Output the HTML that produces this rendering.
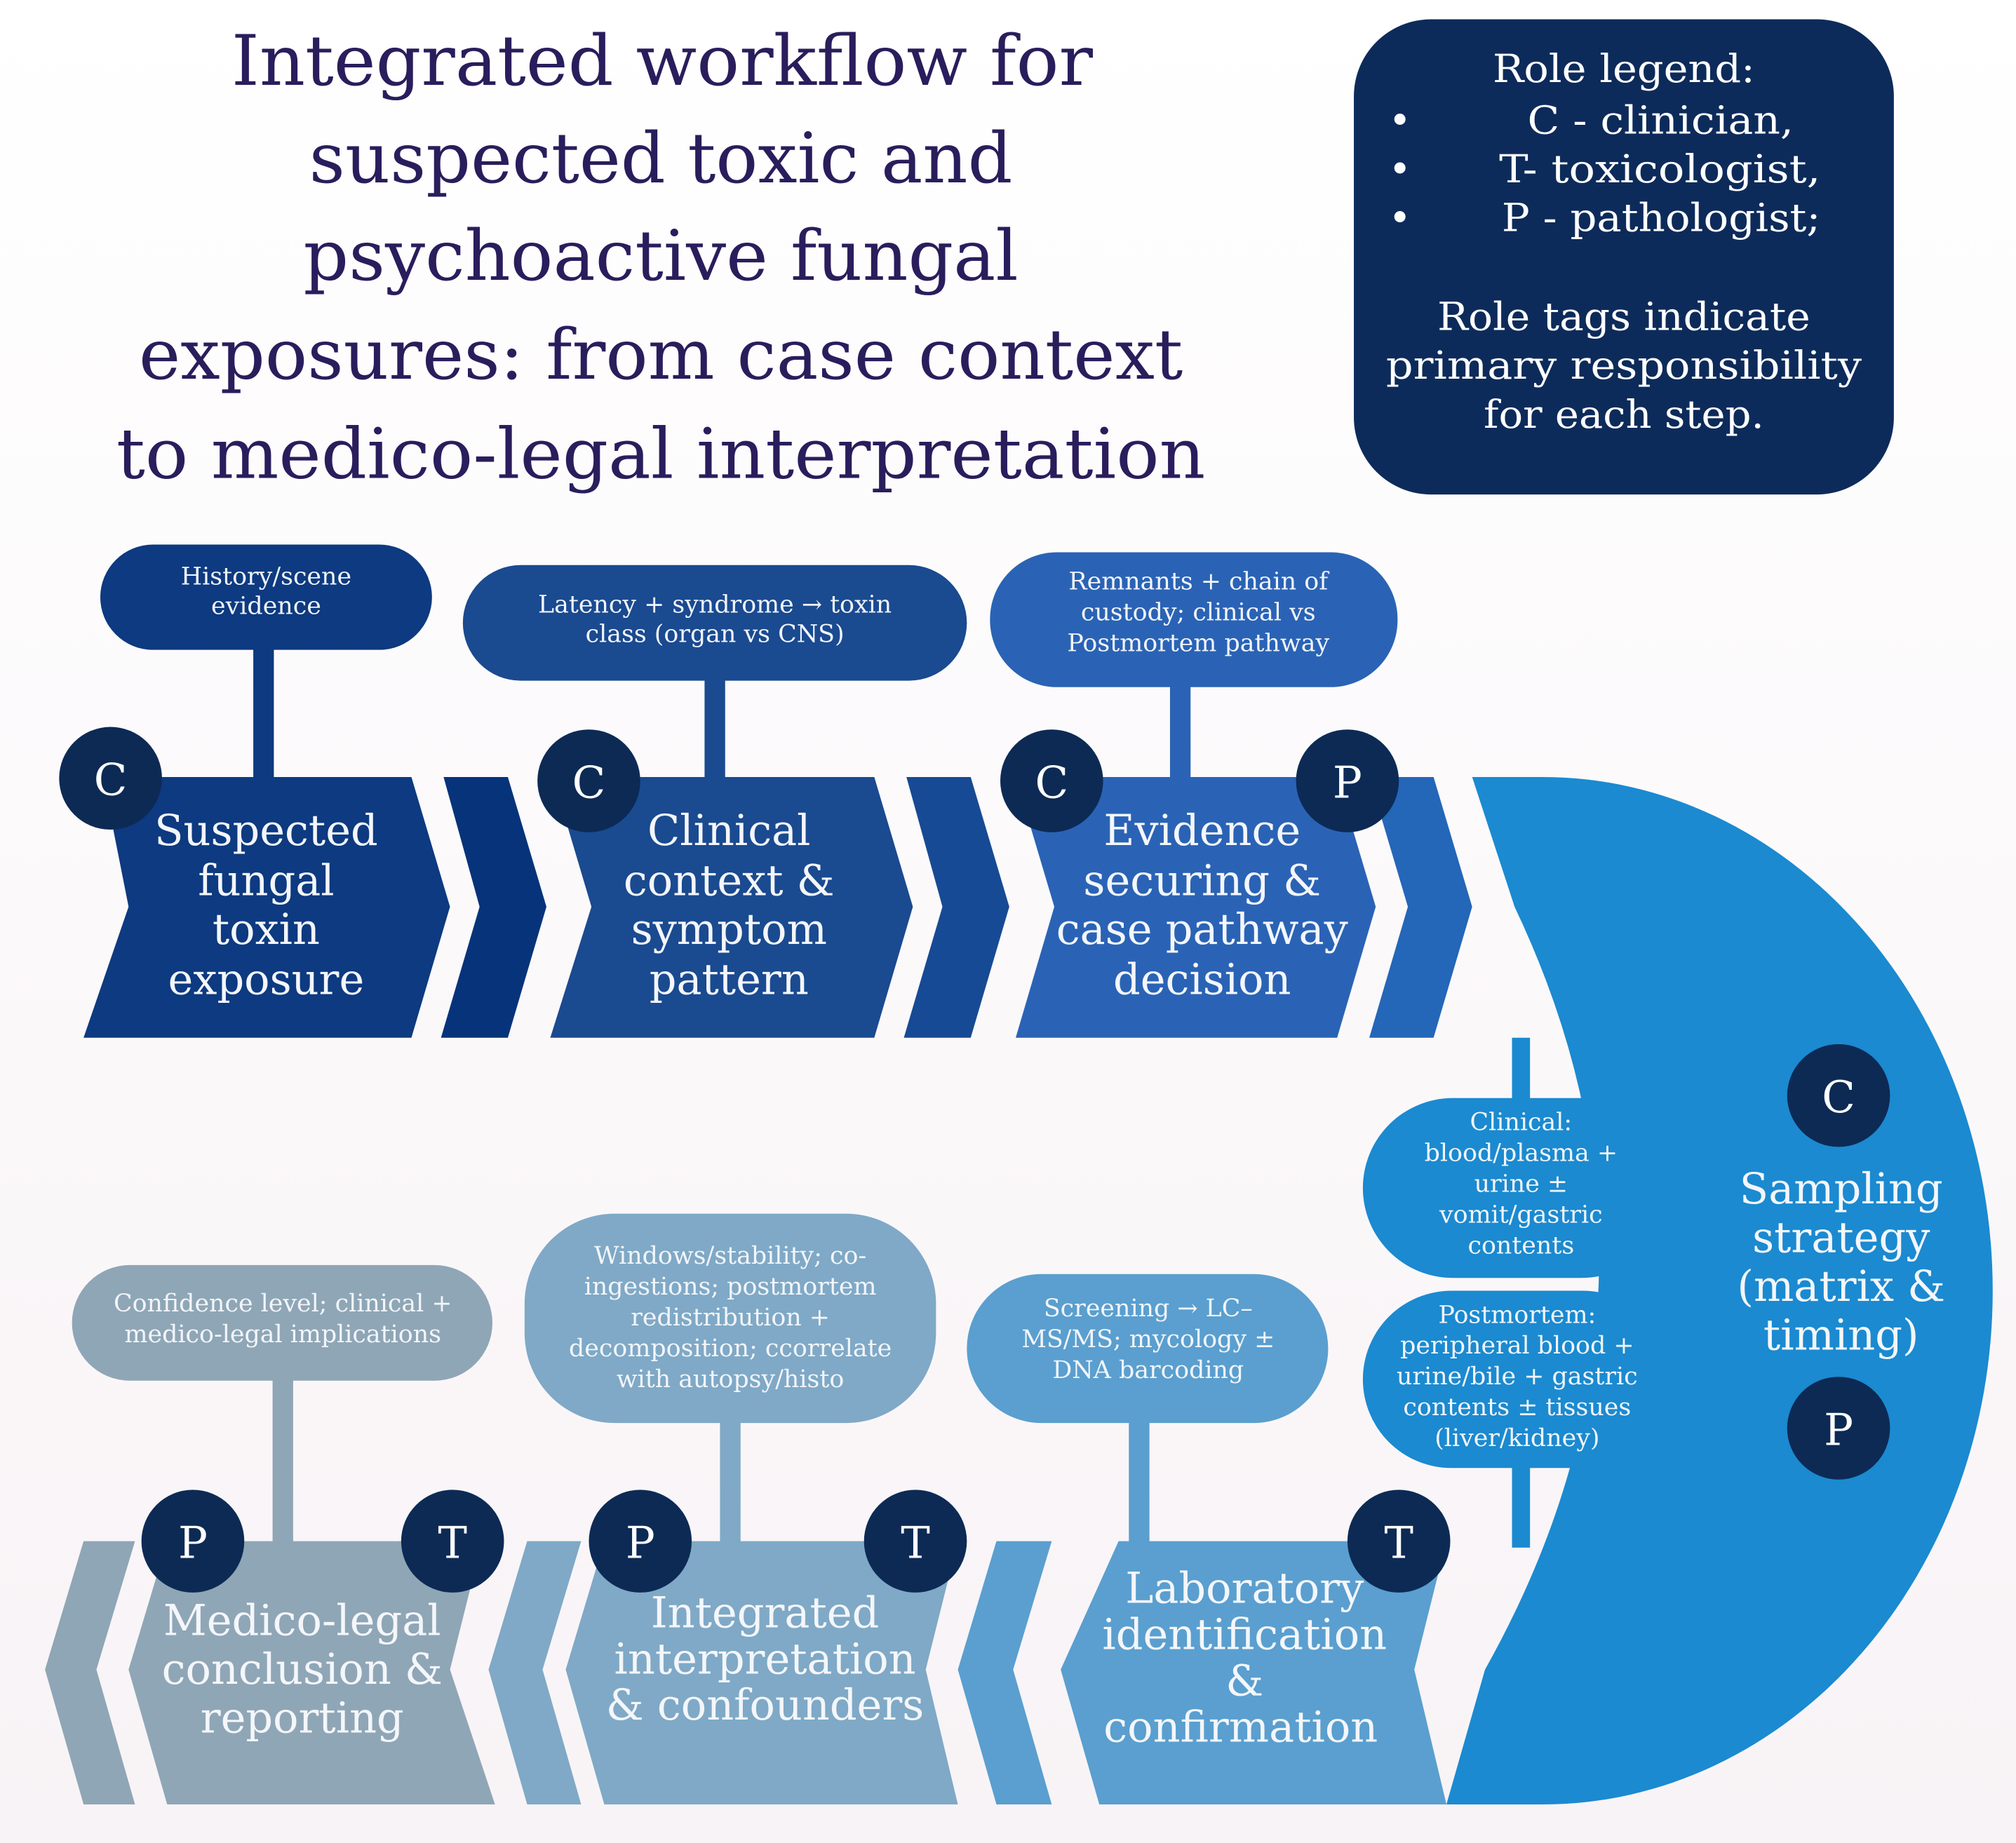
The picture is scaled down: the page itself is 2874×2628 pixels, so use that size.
<!DOCTYPE html>
<html><head><meta charset="utf-8"><style>
html,body{margin:0;padding:0;}
body{width:2874px;height:2628px;overflow:hidden;background:#fdfcfd;}
svg{display:block}
text{font-family:"DejaVu Serif","Liberation Serif",serif;}
</style></head><body>
<svg width="2874" height="2628" viewBox="0 0 1568 1435" preserveAspectRatio="none" xmlns="http://www.w3.org/2000/svg">
<defs><linearGradient id="bg" x1="0" y1="0" x2="0" y2="1"><stop offset="0" stop-color="#ffffff"/><stop offset="1" stop-color="#f8f3f6"/></linearGradient></defs>
<rect width="1568" height="1435" fill="url(#bg)"/>
<g fill="#2a1d5c" font-size="54" text-anchor="middle">
<text x="515" y="66" textLength="670" lengthAdjust="spacingAndGlyphs">Integrated workflow for</text>
<text x="514" y="142" textLength="547" lengthAdjust="spacingAndGlyphs">suspected toxic and</text>
<text x="514" y="218" textLength="556" lengthAdjust="spacingAndGlyphs">psychoactive fungal</text>
<text x="514" y="295" textLength="812" lengthAdjust="spacingAndGlyphs">exposures: from case context</text>
<text x="514" y="372" textLength="847" lengthAdjust="spacingAndGlyphs">to medico-legal interpretation</text>
</g>
<rect x="1053" y="15" width="420" height="370" rx="60" fill="#0d2b5a"/>
<g fill="#fff" font-size="30">
<text x="1263" y="64" text-anchor="middle" textLength="204" lengthAdjust="spacingAndGlyphs">Role legend:</text>
<text x="1080" y="104">•</text><text x="1188" y="104" textLength="207" lengthAdjust="spacingAndGlyphs">C - clinician,</text>
<text x="1080" y="142">•</text><text x="1166" y="142" textLength="250" lengthAdjust="spacingAndGlyphs">T- toxicologist,</text>
<text x="1080" y="180">•</text><text x="1168" y="180" textLength="248" lengthAdjust="spacingAndGlyphs">P - pathologist;</text>
<text x="1263" y="257" text-anchor="middle" textLength="290" lengthAdjust="spacingAndGlyphs">Role tags indicate</text>
<text x="1263" y="295" text-anchor="middle" textLength="370" lengthAdjust="spacingAndGlyphs">primary responsibility</text>
<text x="1263" y="333" text-anchor="middle" textLength="218" lengthAdjust="spacingAndGlyphs">for each step.</text>
</g>
<path d="M1145,605 L1200,605 A350,400 0 0 1 1200,1405 L1125,1405 L1155,1300 Q1320,1005 1178,706 Z" fill="#1b8ad0"/>
<rect x="197" y="500" width="16" height="110" fill="#0d3a80"/>
<rect x="548" y="520" width="16" height="90" fill="#1a4a90"/>
<rect x="910" y="525" width="16" height="85" fill="#2a63b5"/>
<rect x="1176" y="808" width="14" height="60" fill="#1b8ad0"/>
<rect x="1176" y="1130" width="14" height="75" fill="#1b8ad0"/>
<rect x="212" y="1070" width="16" height="135" fill="#8fa6b6"/>
<rect x="560" y="1100" width="16" height="105" fill="#7fa9c6"/>
<rect x="878" y="1100" width="16" height="105" fill="#5a9fcf"/>
<polygon points="80,605 320,605 350,706 320,808 65,808 100,706" fill="#0d3a80"/>
<polygon points="345,605 395,605 425,706 395,808 343,808 373,706" fill="#06337a"/>
<polygon points="430,605 680,605 710,706 680,808 428,808 460,706" fill="#1a4a90"/>
<polygon points="705,605 755,605 785,706 755,808 703,808 733,706" fill="#174a94"/>
<polygon points="790,605 1040,605 1070,706 1040,808 790,808 820,706" fill="#2a63b5"/>
<polygon points="1065,605 1115,605 1145,706 1115,808 1065,808 1095,706" fill="#2466b8"/>
<polygon points="870,1200 1125,1200 1100,1300 1125,1405 855,1405 825,1300" fill="#5a9fcf"/>
<polygon points="775,1200 818,1200 788,1300 818,1405 775,1405 745,1300" fill="#5a9fcf"/>
<polygon points="470,1200 745,1200 720,1300 745,1405 470,1405 440,1300" fill="#7fa9c6"/>
<polygon points="410,1200 452,1200 422,1300 452,1405 410,1405 380,1300" fill="#7fa9c6"/>
<polygon points="130,1200 375,1200 350,1300 385,1405 130,1405 100,1300" fill="#8fa6b6"/>
<polygon points="65,1200 105,1200 75,1300 105,1405 65,1405 35,1300" fill="#8fa6b6"/>
<rect x="78" y="424" width="258" height="82" rx="41" fill="#0d3a80"/>
<rect x="360" y="440" width="392" height="90" rx="45" fill="#1a4a90"/>
<rect x="770" y="430" width="317" height="105" rx="52" fill="#2a63b5"/>
<rect x="1060" y="855" width="240" height="140" rx="70" fill="#1b8ad0"/>
<rect x="1060" y="1005" width="240" height="138" rx="69" fill="#1b8ad0"/>
<rect x="56" y="985" width="327" height="90" rx="45" fill="#8fa6b6"/>
<rect x="408" y="945" width="320" height="163" rx="70" fill="#7fa9c6"/>
<rect x="752" y="992" width="281" height="116" rx="58" fill="#5a9fcf"/>
<g fill="#f2f5fa" font-size="19" text-anchor="middle">
<text x="207" y="455">History/scene</text><text x="207" y="478">evidence</text>
<text x="556" y="477">Latency + syndrome → toxin</text><text x="556" y="500">class (organ vs CNS)</text>
<text x="932" y="459">Remnants + chain of</text><text x="932" y="483">custody; clinical vs</text><text x="932" y="507">Postmortem pathway</text>
<text x="1183" y="880">Clinical:</text><text x="1183" y="904">blood/plasma +</text><text x="1183" y="928">urine ±</text><text x="1183" y="952">vomit/gastric</text><text x="1183" y="976">contents</text>
<text x="1180" y="1030">Postmortem:</text><text x="1180" y="1054">peripheral blood +</text><text x="1180" y="1078">urine/bile + gastric</text><text x="1180" y="1102">contents ± tissues</text><text x="1180" y="1126">(liver/kidney)</text>
<text x="220" y="1021">Confidence level; clinical +</text><text x="220" y="1045">medico-legal implications</text>
<text x="568" y="984">Windows/stability; co-</text><text x="568" y="1008">ingestions; postmortem</text><text x="568" y="1032">redistribution +</text><text x="568" y="1056">decomposition; ccorrelate</text><text x="568" y="1080">with autopsy/histo</text>
<text x="893" y="1025">Screening → LC–</text><text x="893" y="1049">MS/MS; mycology ±</text><text x="893" y="1073">DNA barcoding</text>
</g>
<g fill="#f4f6fa" font-size="33" text-anchor="middle">
<text x="207" y="658">Suspected</text><text x="207" y="697">fungal</text><text x="207" y="735">toxin</text><text x="207" y="774">exposure</text>
<text x="567" y="658">Clinical</text><text x="567" y="697">context &amp;</text><text x="567" y="735">symptom</text><text x="567" y="774">pattern</text>
<text x="935" y="658">Evidence</text><text x="935" y="697">securing &amp;</text><text x="935" y="735">case pathway</text><text x="935" y="774">decision</text>
<text x="1432" y="937">Sampling</text><text x="1432" y="975">strategy</text><text x="1432" y="1013">(matrix &amp;</text><text x="1432" y="1051">timing)</text>
<text x="968" y="1248">Laboratory</text><text x="968" y="1284">identification</text><text x="968" y="1320">&amp;</text><text x="965" y="1356">confirmation</text>
<text x="595" y="1267">Integrated</text><text x="595" y="1303">interpretation</text><text x="595" y="1339">&amp; confounders</text>
<text x="235" y="1273">Medico-legal</text><text x="235" y="1311">conclusion &amp;</text><text x="235" y="1349">reporting</text>
</g>
<g fill="#0d2a55">
<circle cx="86" cy="606" r="40"/><circle cx="458" cy="608" r="40"/><circle cx="818" cy="608" r="40"/><circle cx="1048" cy="608" r="40"/>
<circle cx="1430" cy="853" r="40"/><circle cx="1430" cy="1112" r="40"/>
<circle cx="150" cy="1200" r="40"/><circle cx="352" cy="1200" r="40"/><circle cx="498" cy="1200" r="40"/><circle cx="712" cy="1200" r="40"/><circle cx="1088" cy="1200" r="40"/>
</g>
<g fill="#fff" font-size="34" text-anchor="middle">
<text x="86" y="619">C</text><text x="458" y="621">C</text><text x="818" y="621">C</text><text x="1048" y="621">P</text>
<text x="1430" y="866">C</text><text x="1430" y="1125">P</text>
<text x="150" y="1213">P</text><text x="352" y="1213">T</text><text x="498" y="1213">P</text><text x="712" y="1213">T</text><text x="1088" y="1213">T</text>
</g>
</svg>
</body></html>
